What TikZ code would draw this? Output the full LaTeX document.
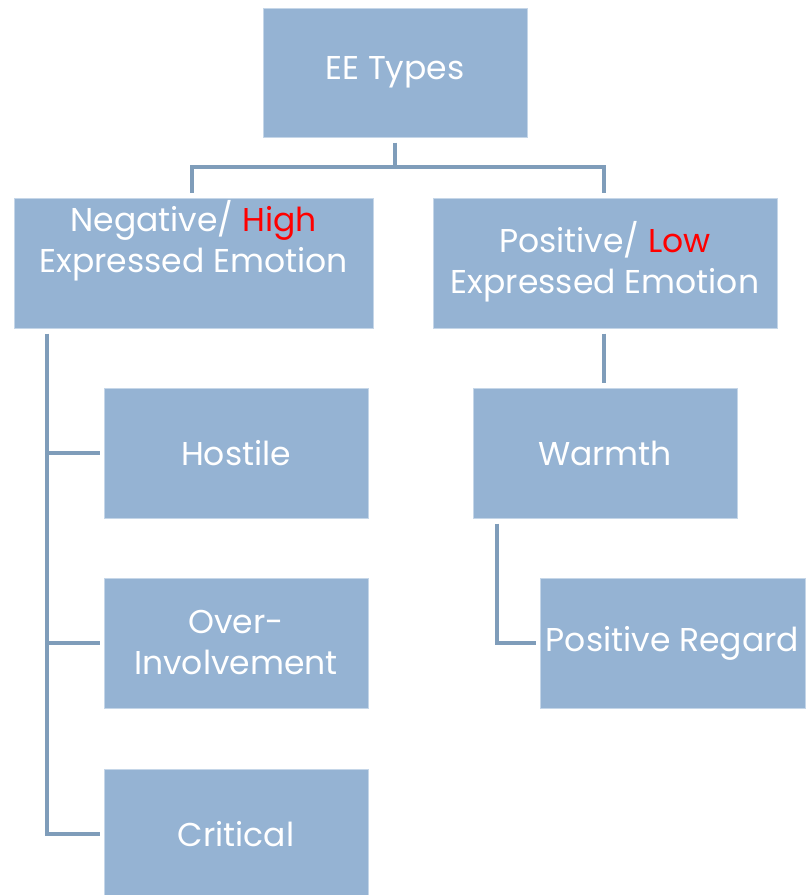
\documentclass[tikz,border=0pt]{standalone}
\usepackage{fontspec}
\setmainfont{Poppins}
\definecolor{boxfill}{HTML}{95B3D3}
\definecolor{boxedge}{HTML}{C5D6E8}
\definecolor{conncol}{HTML}{7F9DBA}
\definecolor{hired}{HTML}{FF0000}
\tikzset{
  box/.style={draw=boxedge, line width=1pt, fill=boxfill, text=white, align=center, inner sep=0pt,
    font=\fontsize{33}{41}\selectfont},
  conn/.style={draw=conncol, line width=4pt, line join=miter},
}
\begin{document}
\begin{tikzpicture}[x=1pt,y=-1pt]
\useasboundingbox (0,0) rectangle (806,895);
\begin{scope}
\clip (0,0) rectangle (806,895);
\node[box, minimum width=264pt, minimum height=129pt] (ee) at (395,72.5) {EE Types};
\node[box, minimum width=359pt, minimum height=130pt] (neg) at (193.5,263) {};
\node[box, minimum width=344pt, minimum height=130pt] (pos) at (605,263) {};
\node[box, minimum width=264pt, minimum height=130pt] (hostile) at (236,453) {Hostile};
\node[box, minimum width=264pt, minimum height=130pt] (over) at (236,643) {Over-\\Involvement};
\node[box, minimum width=264pt, minimum height=130pt] (critical) at (236,834) {Critical};
\node[box, minimum width=264pt, minimum height=130pt] (warmth) at (605,453) {Warmth};
\node[box, minimum width=265pt, minimum height=130pt] (posreg) at (672.5,643) {Positive Regard};
\node[box, draw=none, fill=none] (negtext) at (193.5,241) {Negative/ \textcolor{hired}{High}\\Expressed Emotion};
\node[box, draw=none, fill=none] (postext) at (605,262) {Positive/ \textcolor{hired}{Low}\\Expressed Emotion};
\end{scope}
% connectors
\coordinate (split) at (395,167);
\draw[conn, shorten <=5pt] (ee.south) -- (split);
\draw[conn, shorten >=5pt] (split) -| ([xshift=-1.5pt]neg.north);
\draw[conn, shorten >=5pt] (split) -| ([xshift=-1pt]pos.north);
\coordinate (trunk) at ([xshift=33pt]neg.south west);
\draw[conn, shorten <=5pt] (trunk) |- ([xshift=-4pt]critical.west);
\draw[conn, shorten >=4pt] (hostile.west -| trunk) -- (hostile.west);
\draw[conn, shorten >=4pt] (over.west -| trunk) -- (over.west);
\draw[conn, shorten <=5pt, shorten >=5pt] ([xshift=-1pt]pos.south) -- ([xshift=-1pt]warmth.north);
\coordinate (wtrunk) at ([xshift=24pt]warmth.south west);
\draw[conn, shorten <=5pt] (wtrunk) |- ([xshift=-4pt]posreg.west);
\end{tikzpicture}
\end{document}
